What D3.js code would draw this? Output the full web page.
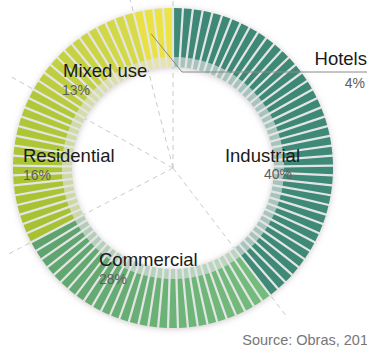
<!DOCTYPE html>
<html><head><meta charset="utf-8">
<script src="https://cdn.jsdelivr.net/npm/d3@7"></script>
<style>body{margin:0;background:#fff}svg{display:block}</style>
</head><body>
<svg id="c" width="367" height="347"></svg>
<script>
// ---- data ----
const categories = ["Industrial", "Commercial", "Residential", "Mixed use", "Hotels"];
const values = [40, 28, 16, 13, 4];
const percentLabels = ["40%", "28%", "16%", "13%", "4%"];
const colorStart = ["#3d8876", "#74bc7c", "#a6c132", "#bacc3e", "#e9e142"];
const colorEnd   = ["#3e8a77", "#5ea36e", "#b1c838", "#d8da48", "#ece444"];
const sourceText = "Source: Obras, 201";

// ---- layout ----
const W = 367, H = 347, cx = 173, cy = 168;
const rOuter = 160, rMid = 111, rInner = 101, rLine = 186;
const labelPos = [
  {name: [300, 162, "end"], pct: [292, 179, "end"]},
  {name: [99, 266, "start"], pct: [99, 284, "start"]},
  {name: [23, 162, "start"], pct: [23, 180, "start"]},
  {name: [63, 77, "start"], pct: [62, 95, "start"]},
  {name: [367, 65, "end"], pct: [365, 88, "end"]}
];

const svg = d3.select("#c");
const defs = svg.append("defs");
const f = defs.append("filter").attr("id", "sh").attr("x", "-20%").attr("y", "-20%").attr("width", "140%").attr("height", "140%");
f.append("feDropShadow").attr("dx", 0).attr("dy", 1).attr("stdDeviation", 3)
  .attr("flood-color", "#a89aa2").attr("flood-opacity", 0.55);

const total = d3.sum(values);
const ang = d3.scaleLinear().domain([0, total]).range([0, 2 * Math.PI]);
const cum = d3.cumsum([0].concat(values));

const g = svg.append("g").attr("transform", `translate(${cx},${cy})`);

// dashed radial guide lines at sector boundaries
g.append("g").selectAll("line").data(cum.slice(0, values.length)).join("line")
  .attr("x1", 0).attr("y1", 0)
  .attr("x2", d => rLine * Math.sin(ang(d)))
  .attr("y2", d => -rLine * Math.cos(ang(d)))
  .attr("stroke", "#c4c4c4").attr("stroke-width", 0.9).attr("stroke-dasharray", "5,4");

// base ring (gap colour + shadow)
g.append("path")
  .attr("d", d3.arc().innerRadius(rInner).outerRadius(rOuter).startAngle(0).endAngle(2 * Math.PI)())
  .attr("fill", "#e3e5e4").attr("filter", "url(#sh)");

// unit bars
const bars = [];
values.forEach((v, i) => {
  const interp = d3.interpolateRgb(colorStart[i], colorEnd[i]);
  for (let k = 0; k < v; k++) {
    const u = cum[i] + k;
    bars.push({cat: i, startAngle: ang(u), endAngle: ang(u + 1), color: interp(v > 1 ? k / (v - 1) : 0)});
  }
});
const arcOuter = d3.arc().innerRadius(rMid).outerRadius(rOuter).padAngle(0.014).padRadius(rOuter);
const arcInner = d3.arc().innerRadius(rInner).outerRadius(rMid).padAngle(0.014).padRadius(rOuter);
g.append("g").selectAll("path.in").data(bars).join("path")
  .attr("d", arcInner).attr("fill", d => d.color).attr("fill-opacity", 0.36);
g.append("g").selectAll("path.out").data(bars).join("path")
  .attr("d", arcOuter).attr("fill", d => d.color);

// Hotels leader line
const hotelsMid = ang(cum[4] + values[4] * 0.35);
const lr = 136;
svg.append("polyline")
  .attr("points", [[cx + lr * Math.sin(hotelsMid), cy - lr * Math.cos(hotelsMid)], [182, 72], [W, 72]].map(p => p.join(",")).join(" "))
  .attr("fill", "none").attr("stroke", "#8a8a8a").attr("stroke-width", 1);

// labels
const font = "'Liberation Sans', Arial, Helvetica, sans-serif";
categories.forEach((c, i) => {
  const p = labelPos[i];
  svg.append("text").attr("x", p.name[0]).attr("y", p.name[1]).attr("text-anchor", p.name[2])
    .attr("font-family", font).attr("font-size", 18.5).attr("fill", "#1a1a1a").text(c);
  svg.append("text").attr("x", p.pct[0]).attr("y", p.pct[1]).attr("text-anchor", p.pct[2])
    .attr("font-family", font).attr("font-size", 14).attr("fill", "#5e5e5e").text(percentLabels[i]);
});

svg.append("text").attr("x", W + 1).attr("y", 345).attr("text-anchor", "end")
  .attr("font-family", font).attr("font-size", 14.5).attr("fill", "#777").text(sourceText);
</script>
</body></html>
